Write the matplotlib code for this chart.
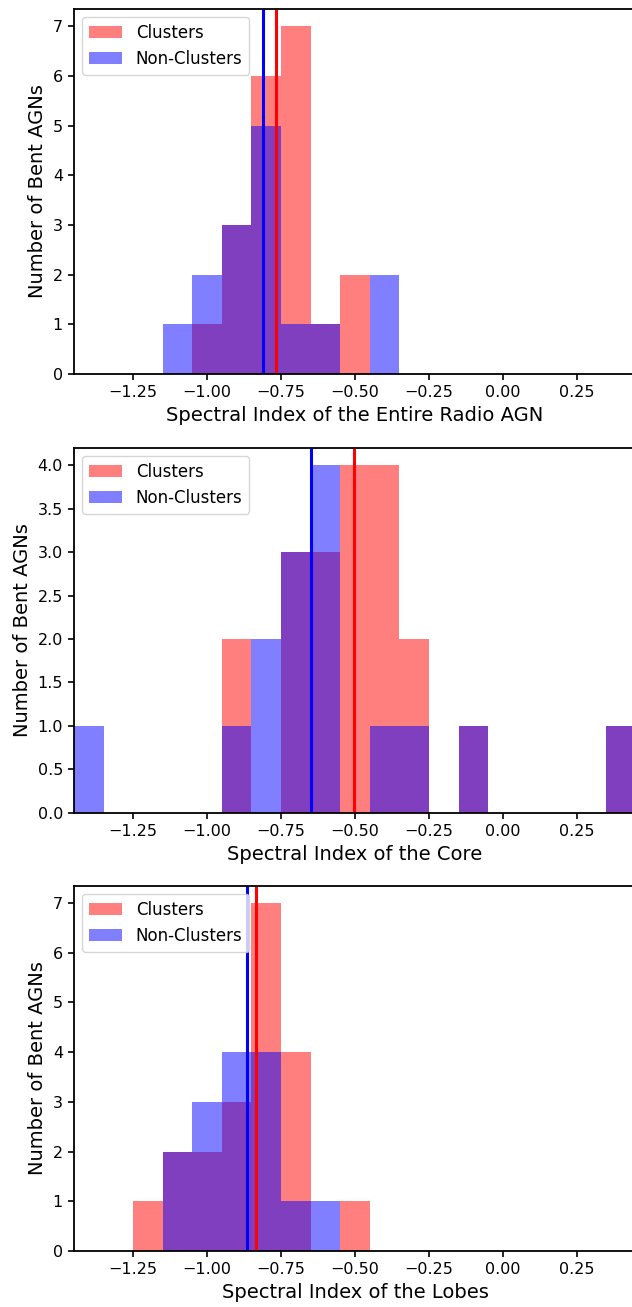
import matplotlib
matplotlib.use("Agg")
import matplotlib.pyplot as plt
import numpy as np

# bin edges shared by all three histograms (width 0.1)
edges = np.round(np.arange(-1.45, 0.46, 0.1), 2)
centers = (edges[:-1] + edges[1:]) / 2

# counts per bin, bins from -1.45 to 0.45
entire_clusters =    [0, 0, 0, 0, 1, 3, 6, 7, 1, 2, 0, 0, 0, 0, 0, 0, 0, 0, 0]
entire_nonclusters = [0, 0, 0, 1, 2, 3, 5, 1, 1, 0, 2, 0, 0, 0, 0, 0, 0, 0, 0]
core_clusters =      [0, 0, 0, 0, 0, 2, 0, 3, 3, 4, 4, 2, 0, 1, 0, 0, 0, 0, 1]
core_nonclusters =   [1, 0, 0, 0, 0, 1, 2, 3, 4, 0, 1, 1, 0, 1, 0, 0, 0, 0, 1]
lobes_clusters =     [0, 0, 1, 2, 2, 3, 7, 4, 0, 1, 0, 0, 0, 0, 0, 0, 0, 0, 0]
lobes_nonclusters =  [0, 0, 0, 2, 3, 4, 4, 1, 1, 0, 0, 0, 0, 0, 0, 0, 0, 0, 0]

# vertical marker lines (mean spectral index of each sample)
entire_lines = [-0.766, -0.810]
core_lines = [-0.505, -0.650]
lobes_lines = [-0.836, -0.866]

xlabels = ["Spectral Index of the Entire Radio AGN",
           "Spectral Index of the Core",
           "Spectral Index of the Lobes"]

panels = [(entire_clusters, entire_nonclusters, entire_lines),
          (core_clusters, core_nonclusters, core_lines),
          (lobes_clusters, lobes_nonclusters, lobes_lines)]

fig = plt.figure(figsize=(6.32, 13.07), dpi=100)
bottoms = [0.7138, 0.3780, 0.0429]

for i, (cl, ncl, lines) in enumerate(panels):
    ax = fig.add_axes([0.1171, bottoms[i], 0.8892, 0.2795])
    ax.hist(centers, bins=edges, weights=cl, color='red', alpha=0.5, label='Clusters')
    ax.hist(centers, bins=edges, weights=ncl, color='blue', alpha=0.5, label='Non-Clusters')
    ax.axvline(lines[0], color='red', lw=2.2)
    ax.axvline(lines[1], color='blue', lw=2.2)
    ax.set_xlim(-1.45, 0.45)
    ax.set_xlabel(xlabels[i], fontsize=14)
    ax.set_ylabel("Number of Bent AGNs", fontsize=14)
    ax.tick_params(labelsize=11.5, width=1.2, length=4.5)
    for s in ax.spines.values():
        s.set_linewidth(1.3)
    ax.legend(loc='upper left', fontsize=12)

fig.savefig("out.png", dpi=100)
